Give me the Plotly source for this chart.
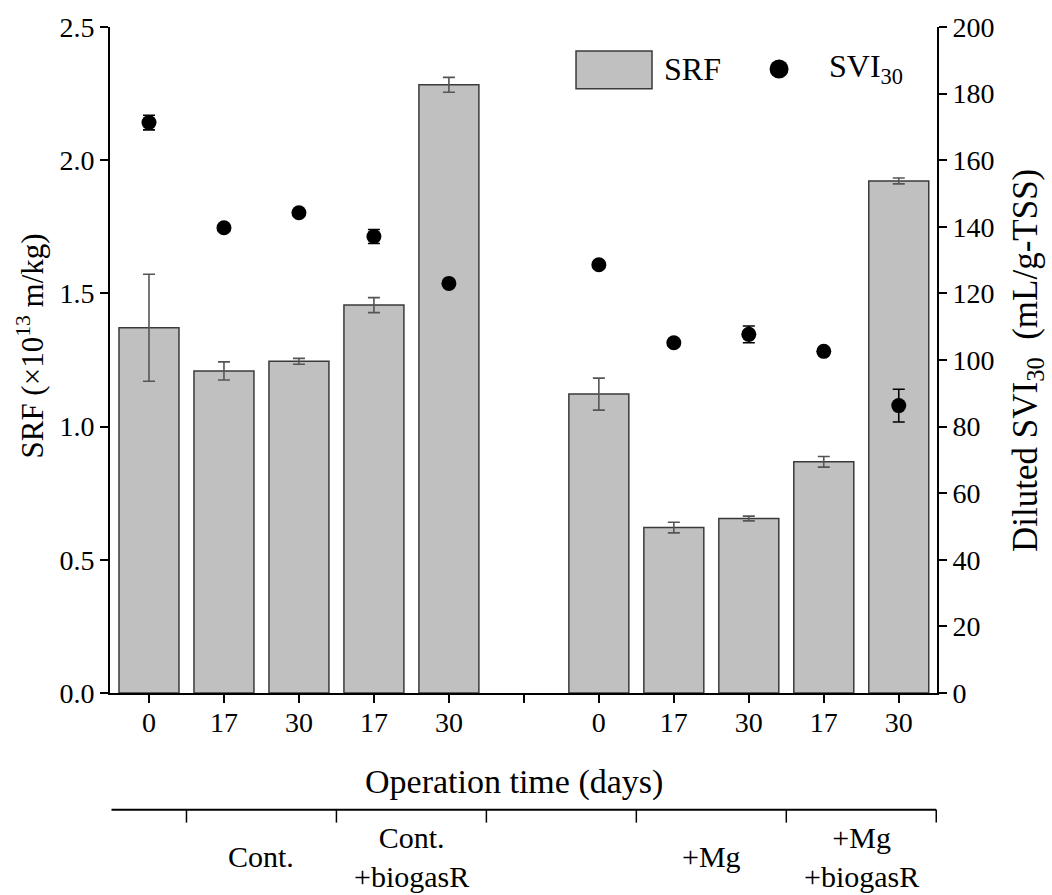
import plotly.graph_objects as go

# ---- data ----
days = ["0", "17", "30", "17", "30", "0", "17", "30", "17", "30"]
srf = [1.371, 1.209, 1.245, 1.456, 2.283, 1.122, 0.621, 0.655, 0.868, 1.922]
srf_err = [0.201, 0.034, 0.011, 0.028, 0.028, 0.060, 0.020, 0.009, 0.020, 0.011]
svi = [171.3, 139.7, 144.2, 137.1, 123.0, 128.6, 105.2, 107.7, 102.6, 86.3]
svi_err = [2.2, 0.8, 0.6, 2.1, 0.6, 0.6, 0.6, 2.5, 0.6, 4.9]
group_labels = ["Cont.", "Cont.<br>+biogasR", "+Mg", "+Mg<br>+biogasR"]
group_members = [[1, 2], [3, 4], [6, 7], [8, 9]]

x_title = "Operation time (days)"
y_title = "SRF (×10<sup>13</sup> m/kg)"
y2_title = "Diluted SVI<sub>30</sub>\u00a0 (mL/g-TSS)"

# slot positions: 5 samples, one empty slot, 5 samples
pos = [i if i < 5 else i + 1 for i in range(len(days))]
n_slots = len(days) + 1
tick_vals = list(range(n_slots))
tick_text = [" "] * n_slots
for p, d in zip(pos, days):
    tick_text[p] = d

FONT = "Liberation Serif"

fig = go.Figure()
fig.add_trace(go.Bar(
    x=pos, y=srf, width=0.8, name="SRF",
    marker=dict(color="#c0c0c0", line=dict(color="#3a3a3a", width=1.5)),
    error_y=dict(type="data", array=srf_err, visible=True, color="#555555",
                 thickness=1.6, width=6),
    showlegend=False,
))
fig.add_trace(go.Scatter(
    x=pos, y=svi, mode="markers", name="SVI30", yaxis="y2",
    marker=dict(color="black", size=15),
    error_y=dict(type="data", array=svi_err, visible=True, color="black",
                 thickness=1.6, width=6),
    showlegend=False,
))

axis_common = dict(showline=True, linecolor="black", linewidth=2, ticks="outside",
                   ticklen=8, tickwidth=2, tickcolor="black", showgrid=False,
                   zeroline=False, tickfont=dict(family=FONT, size=28, color="black"))

fig.update_layout(
    width=1052, height=895,
    margin=dict(l=110, r=115, t=25, b=202),
    paper_bgcolor="white", plot_bgcolor="white",
    font=dict(family=FONT, color="black"),
    xaxis=dict(range=[-0.52, 10.51], tickvals=tick_vals, ticktext=tick_text,
               ticklabelstandoff=-5, **axis_common),
    yaxis=dict(range=[0, 2.5], dtick=0.5, tickformat=".1f", **axis_common),
    yaxis2=dict(range=[0, 200], dtick=20, overlaying="y", side="right",
                **axis_common),
)

ph = 668.0  # plot height in px
pw = 827.0  # plot width in px
def py(px_below_axis):
    return -px_below_axis / ph

# ---- axis titles ----
fig.add_annotation(x=(513.5 - 110) / pw, y=py(89), xref="paper", yref="paper",
                   text=x_title, showarrow=False, xanchor="center", yanchor="middle",
                   font=dict(family=FONT, size=34, color="black"))
fig.add_annotation(x=(31 - 110) / pw, y=(693 - 345.5) / ph, xref="paper", yref="paper",
                   text=y_title, showarrow=False, textangle=-90,
                   xanchor="center", yanchor="middle",
                   font=dict(family=FONT, size=31, color="black"))
fig.add_annotation(x=(1028 - 110) / pw, y=(693 - 360) / ph, xref="paper", yref="paper",
                   text=y2_title, showarrow=False, textangle=-90,
                   xanchor="center", yanchor="middle",
                   font=dict(family=FONT, size=35, color="black"))

# ---- group bracket below the axis ----
line_y = py(117)
tick_y = py(130)
left_edge = -0.5
right_edge = n_slots - 0.5
fig.add_shape(type="line", xref="x", yref="paper", x0=left_edge, x1=right_edge,
              y0=line_y, y1=line_y, line=dict(color="black", width=2))
sep = [left_edge + 1 + 2 * k for k in range(6)]
for s in sep:
    fig.add_shape(type="line", xref="x", yref="paper", x0=s, x1=s,
                  y0=line_y, y1=tick_y, line=dict(color="black", width=1.5))

for lbl, mem in zip(group_labels, group_members):
    cx = (pos[mem[0]] + pos[mem[1]]) / 2
    fig.add_annotation(x=cx, y=py(164), xref="x", yref="paper", text=lbl,
                       showarrow=False, xanchor="center", yanchor="middle",
                       font=dict(family=FONT, size=30, color="black"))

# ---- legend drawn by hand ----
fig.add_shape(type="rect", xref="paper", yref="paper", x0=0.5635, x1=0.6554,
              y0=0.9072, y1=0.9641, fillcolor="#c0c0c0",
              line=dict(color="#3a3a3a", width=1.5))
fig.add_annotation(x=0.6675, y=0.937, xref="paper", yref="paper", text="SRF",
                   showarrow=False, xanchor="left", yanchor="middle",
                   font=dict(family=FONT, size=32, color="black"))
fig.add_shape(type="circle", xref="paper", yref="paper", xsizemode="pixel",
              ysizemode="pixel", xanchor=0.809, yanchor=0.937,
              x0=-9.5, x1=9.5, y0=-9.5, y1=9.5, fillcolor="black",
              line=dict(color="black", width=0))
fig.add_annotation(x=0.867, y=0.937, xref="paper", yref="paper",
                   text="SVI<sub>30</sub>", showarrow=False, xanchor="left",
                   yanchor="middle", font=dict(family=FONT, size=32, color="black"))

fig.write_html("out.html")
